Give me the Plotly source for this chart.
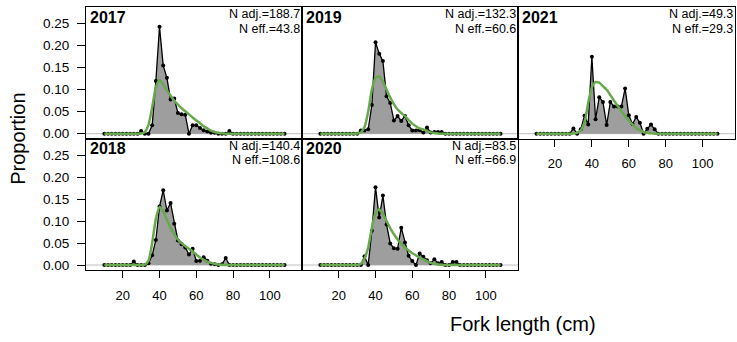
import plotly.graph_objects as go

W, H = 737, 342

# ---------------- data ----------------
length_bins = list(range(10, 110, 2))          # fork length bins (cm), 50 bins
years = ["2017", "2018", "2019", "2020", "2021"]
n_adj = ["188.7", "140.4", "132.3", "83.5", "49.3"]
n_eff = ["43.8", "108.6", "60.6", "66.9", "29.3"]
x_ticks = [20, 40, 60, 80, 100]
y_ticks = [0.00, 0.05, 0.10, 0.15, 0.20, 0.25]

obs_2017 = [0, 0, 0, 0, 0, 0, 0, 0, 0, 0,
            0.006, 0, 0, 0.019, 0.12, 0.243, 0.155, 0.127, 0.078, 0.080,
            0.047, 0.044, 0.043, 0, 0.019, 0.019, 0.013, 0.008, 0.005, 0.002,
            0.002, 0, 0, 0, 0.006, 0, 0, 0, 0, 0,
            0, 0, 0, 0, 0, 0, 0, 0, 0, 0]
exp_2017 = [0, 0, 0, 0, 0, 0, 0, 0, 0, 0,
            0.0005, 0.004, 0.02, 0.06, 0.105, 0.122, 0.112, 0.098, 0.087, 0.075,
            0.066, 0.058, 0.051, 0.044, 0.037, 0.030, 0.024, 0.017, 0.012, 0.007,
            0.004, 0.002, 0.001, 0, 0, 0, 0, 0, 0, 0,
            0, 0, 0, 0, 0, 0, 0, 0, 0, 0]

obs_2018 = [0, 0, 0, 0, 0, 0, 0, 0, 0.008, 0,
            0, 0, 0.004, 0.022, 0.057, 0.133, 0.170, 0.124, 0.141, 0.094,
            0.056, 0.047, 0.040, 0.024, 0.037, 0.009, 0.010, 0.018, 0.010, 0.003,
            0.002, 0, 0.002, 0.016, 0, 0, 0, 0, 0, 0,
            0, 0, 0, 0, 0, 0, 0, 0, 0, 0]
exp_2018 = [0, 0, 0, 0, 0, 0, 0, 0, 0, 0,
            0, 0.001, 0.01, 0.05, 0.105, 0.132, 0.122, 0.103, 0.085, 0.070,
            0.058, 0.050, 0.043, 0.037, 0.031, 0.024, 0.017, 0.012, 0.008, 0.005,
            0.003, 0.0015, 0.0005, 0, 0, 0, 0, 0, 0, 0,
            0, 0, 0, 0, 0, 0, 0, 0, 0, 0]

obs_2019 = [0, 0, 0, 0, 0, 0, 0, 0, 0, 0,
            0, 0.0075, 0.0075, 0.01, 0.065, 0.208, 0.182, 0.165, 0.085, 0.070,
            0.030, 0.040, 0.029, 0.040, 0.019, 0.0075, 0.0075, 0.008, 0.003, 0.014,
            0.003, 0.004, 0.004, 0.004, 0, 0, 0, 0, 0, 0,
            0, 0, 0, 0, 0, 0, 0, 0, 0, 0]
exp_2019 = [0, 0, 0, 0, 0, 0, 0, 0, 0, 0,
            0.0005, 0.003, 0.015, 0.05, 0.10, 0.127, 0.13, 0.118, 0.100, 0.082,
            0.067, 0.055, 0.047, 0.040, 0.031, 0.023, 0.017, 0.012, 0.010, 0.006,
            0.003, 0.0015, 0.0005, 0, 0, 0, 0, 0, 0, 0,
            0, 0, 0, 0, 0, 0, 0, 0, 0, 0]

obs_2020 = [0, 0, 0, 0, 0, 0, 0, 0, 0, 0,
            0, 0, 0.020, 0, 0.078, 0.177, 0.108, 0.158, 0.092, 0.049,
            0.038, 0.037, 0.085, 0.051, 0.021, 0.009, 0, 0.026, 0.019, 0.011,
            0.004, 0.013, 0.004, 0.007, 0, 0, 0.007, 0.007, 0, 0,
            0, 0, 0, 0, 0, 0, 0, 0, 0, 0]
exp_2020 = [0, 0, 0, 0, 0, 0, 0, 0, 0, 0,
            0, 0.003, 0.015, 0.04, 0.085, 0.118, 0.127, 0.117, 0.100, 0.084,
            0.070, 0.058, 0.048, 0.040, 0.033, 0.027, 0.022, 0.017, 0.013, 0.009,
            0.005, 0.003, 0.0015, 0.0005, 0, 0, 0, 0, 0, 0,
            0, 0, 0, 0, 0, 0, 0, 0, 0, 0]

obs_2021 = [0, 0, 0, 0, 0, 0, 0, 0, 0, 0,
            0.012, 0, 0.010, 0.041, 0.021, 0.175, 0.033, 0.083, 0.072, 0.020,
            0.072, 0.062, 0.062, 0.062, 0.103, 0.042, 0.022, 0.038, 0.025, 0,
            0.011, 0.021, 0.010, 0, 0, 0, 0, 0, 0, 0,
            0, 0, 0, 0, 0, 0, 0, 0, 0, 0]
exp_2021 = [0, 0, 0, 0, 0, 0, 0, 0, 0, 0,
            0.0005, 0.002, 0.008, 0.025, 0.07, 0.105, 0.117, 0.116, 0.108, 0.100,
            0.088, 0.075, 0.063, 0.051, 0.040, 0.030, 0.021, 0.013, 0.008, 0.004,
            0.002, 0.001, 0, 0, 0, 0, 0, 0, 0, 0,
            0, 0, 0, 0, 0, 0, 0, 0, 0, 0]

observed = [obs_2017, obs_2018, obs_2019, obs_2020, obs_2021]
expected = [exp_2017, exp_2018, exp_2019, exp_2020, exp_2021]

# ---------------- layout geometry (pixels) ----------------
col_left = [86, 302, 518]
col_right = [302, 518, 735]
row_top = [7.5, 140]
row_bot = [140, 272.5]
# panel -> (col, row) ; R fills column-wise
panel_pos = [(0, 0), (0, 1), (1, 0), (1, 1), (2, 0)]
x_range = [0, 117.5]
y_range = [-0.0115, 0.287]

FONT = "Liberation Sans, Arial, Helvetica, sans-serif"
FILL = "#9E9E9E"
GREEN = "#68A84E"


def px_x(p):
    return p / W


def px_y(p):
    return 1 - p / H


fig = go.Figure()
layout = dict(
    width=W, height=H,
    margin=dict(l=0, r=0, t=0, b=0),
    paper_bgcolor="white", plot_bgcolor="white",
    showlegend=False,
    font=dict(family=FONT, color="black"),
)
annotations = []
shapes = []

for k in range(5):
    c, r = panel_pos[k]
    n = k + 1
    xa = "x" if n == 1 else f"x{n}"
    ya = "y" if n == 1 else f"y{n}"
    xkey = "xaxis" if n == 1 else f"xaxis{n}"
    ykey = "yaxis" if n == 1 else f"yaxis{n}"

    show_x = (r == 1) or (c == 2)
    show_y = (c == 0)

    layout[xkey] = dict(
        domain=[px_x(col_left[c]), px_x(col_right[c])],
        anchor=ya, range=x_range,
        showgrid=False, zeroline=False,
        showline=True, mirror=True, linecolor="black", linewidth=1,
        tickmode="array", tickvals=x_ticks,
        ticktext=[str(t) for t in x_ticks],
        ticks="outside" if show_x else "", ticklen=7, tickwidth=1, tickcolor="black",
        showticklabels=show_x, ticklabelstandoff=6,
        tickfont=dict(family=FONT, size=13, color="black"),
    )
    layout[ykey] = dict(
        domain=[px_y(row_bot[r]), px_y(row_top[r])],
        anchor=xa, range=y_range,
        showgrid=False, zeroline=False,
        showline=True, mirror=True, linecolor="black", linewidth=1,
        tickmode="array", tickvals=y_ticks,
        ticktext=[f"{t:.2f}" for t in y_ticks],
        ticks="outside" if show_y else "", ticklen=8, tickwidth=1, tickcolor="black",
        showticklabels=show_y, ticklabelstandoff=5,
        tickfont=dict(family=FONT, size=13.5, color="black"),
    )

    # grey zero line
    shapes.append(dict(type="line", xref=f"{xa} domain", yref=ya,
                       x0=0, x1=1, y0=0, y1=0, layer="below",
                       line=dict(color="#BEBEBE", width=1)))

    fig.add_trace(go.Scatter(
        x=length_bins, y=observed[k], xaxis=xa, yaxis=ya,
        mode="lines+markers", fill="tozeroy", fillcolor=FILL,
        line=dict(color="black", width=1.3),
        marker=dict(color="black", size=4),
        hoverinfo="skip"))
    fig.add_trace(go.Scatter(
        x=length_bins, y=expected[k], xaxis=xa, yaxis=ya,
        mode="lines", line=dict(color=GREEN, width=2.5, shape="spline", smoothing=0.6),
        hoverinfo="skip"))

    # labels
    annotations.append(dict(
        text=f"<b>{years[k]}</b>", xref="paper", yref="paper",
        x=px_x(col_left[c] + 2.5), y=px_y(row_top[r] + 10),
        xanchor="left", yanchor="middle", showarrow=False, borderpad=0,
        font=dict(family=FONT, size=16, color="black")))
    annotations.append(dict(
        text=f"N adj.={n_adj[k]}", xref="paper", yref="paper",
        x=px_x(col_right[c] - 1), y=px_y(row_top[r] + 7.0),
        xanchor="right", yanchor="middle", showarrow=False, borderpad=0,
        font=dict(family=FONT, size=12.5, color="black")))
    annotations.append(dict(
        text=f"N eff.={n_eff[k]}", xref="paper", yref="paper",
        x=px_x(col_right[c] - 1), y=px_y(row_top[r] + 21.3),
        xanchor="right", yanchor="middle", showarrow=False, borderpad=0,
        font=dict(family=FONT, size=12.5, color="black")))

annotations.append(dict(
    text="Proportion", xref="paper", yref="paper",
    x=px_x(18), y=px_y(140), textangle=-90,
    xanchor="center", yanchor="middle", showarrow=False,
    font=dict(family=FONT, size=20, color="black")))
annotations.append(dict(
    text="Fork length (cm)", xref="paper", yref="paper",
    x=px_x(523), y=px_y(327),
    xanchor="center", yanchor="middle", showarrow=False,
    font=dict(family=FONT, size=20, color="black")))

layout["annotations"] = annotations
layout["shapes"] = shapes
fig.update_layout(**layout)

fig.write_html("out.html", config={"displayModeBar": False})

# remove the default page margin so the figure sits at the window's corner
with open("out.html", "r", encoding="utf-8") as f:
    html = f.read()
html = html.replace("<head>", "<head><style>html,body{margin:0;padding:0;overflow:hidden;}</style>", 1)
with open("out.html", "w", encoding="utf-8") as f:
    f.write(html)
